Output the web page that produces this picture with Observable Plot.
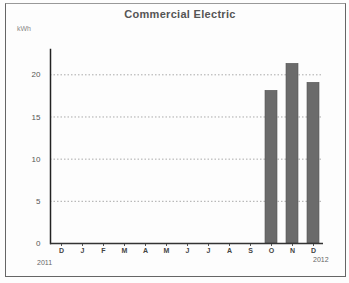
<!DOCTYPE html>
<html><head><meta charset="utf-8">
<script src="https://cdn.jsdelivr.net/npm/d3@7"></script>
<script src="https://cdn.jsdelivr.net/npm/@observablehq/plot@0.6"></script>
<style>
body{margin:0;background:#fff;font-family:"Liberation Sans",Arial,sans-serif;}
#wrap{position:relative;width:349px;height:283px;overflow:hidden;background:#fdfdfd;}
#frame{position:absolute;left:5px;top:3px;width:339px;height:272px;border:1px solid #666;border-top-color:#999;}
#title{position:absolute;left:0;top:8px;width:360px;text-align:center;font-size:11px;font-weight:bold;color:#555;letter-spacing:0.3px;}
#unit{position:absolute;left:17px;top:25px;font-size:7px;color:#888;}
#chart{position:absolute;left:0;top:30px;}
.yr{position:absolute;font-size:7px;color:#666;}
</style></head>
<body>
<div id="wrap">
<div id="frame"></div>
<div id="title"></div>
<div id="unit"></div>
<div id="chart"></div>
<div class="yr" id="y0" style="left:37px;top:259px"></div>
<div class="yr" id="y1" style="left:313px;top:256px"></div>
</div>
<script>
const titleText = "Commercial Electric";
const unitText = "kWh";
const months = ["2011-12","2012-01","2012-02","2012-03","2012-04","2012-05","2012-06","2012-07","2012-08","2012-09","2012-10","2012-11","2012-12"];
const monthLabels = ["D","J","F","M","A","M","J","J","A","S","O","N","D"];
const values = [null,null,null,null,null,null,null,null,null,null,18.1,21.3,19.05];
const yTicks = [0,5,10,15,20];
const gridTicks = [5,10,15,20];
const years = ["2011","2012"];

document.getElementById("title").textContent = titleText;
document.getElementById("unit").textContent = unitText;
document.getElementById("y0").textContent = years[0];
document.getElementById("y1").textContent = years[1];

const data = months.map((m,i)=>({month:m, value:values[i]})).filter(d=>d.value!=null);
const labelOf = new Map(months.map((m,i)=>[m,monthLabels[i]]));

const chart = Plot.plot({
  width:349, height:253,
  marginLeft:50, marginRight:26, marginTop:19, marginBottom:40,
  style:{background:"transparent", fontFamily:"Liberation Sans, Arial, sans-serif", color:"#555"},
  x:{type:"band", domain:months, paddingInner:0.45, paddingOuter:0, label:null},
  y:{domain:[0,23], label:null},
  marks:[
    Plot.ruleY(gridTicks,{stroke:"#aaa", strokeDasharray:"1.5,2", strokeWidth:1}),
    Plot.barY(data,{x:"month", y:"value", fill:"#6b6b6b", stroke:"#555", strokeWidth:0.6}),
    Plot.axisY({ticks:yTicks, tickSize:0, tickPadding:10, fontSize:8, fill:"#555"}),
    Plot.axisX({tickSize:3, tickPadding:2, fontSize:7, fill:"#444", fontWeight:"bold", tickFormat:d=>labelOf.get(d)}),
    Plot.frame({anchor:"left", stroke:"#222", strokeWidth:1.5}),
    Plot.ruleY([0],{stroke:"#333", strokeWidth:1.5})
  ]
});
document.getElementById("chart").appendChild(chart);
</script>
</body></html>
